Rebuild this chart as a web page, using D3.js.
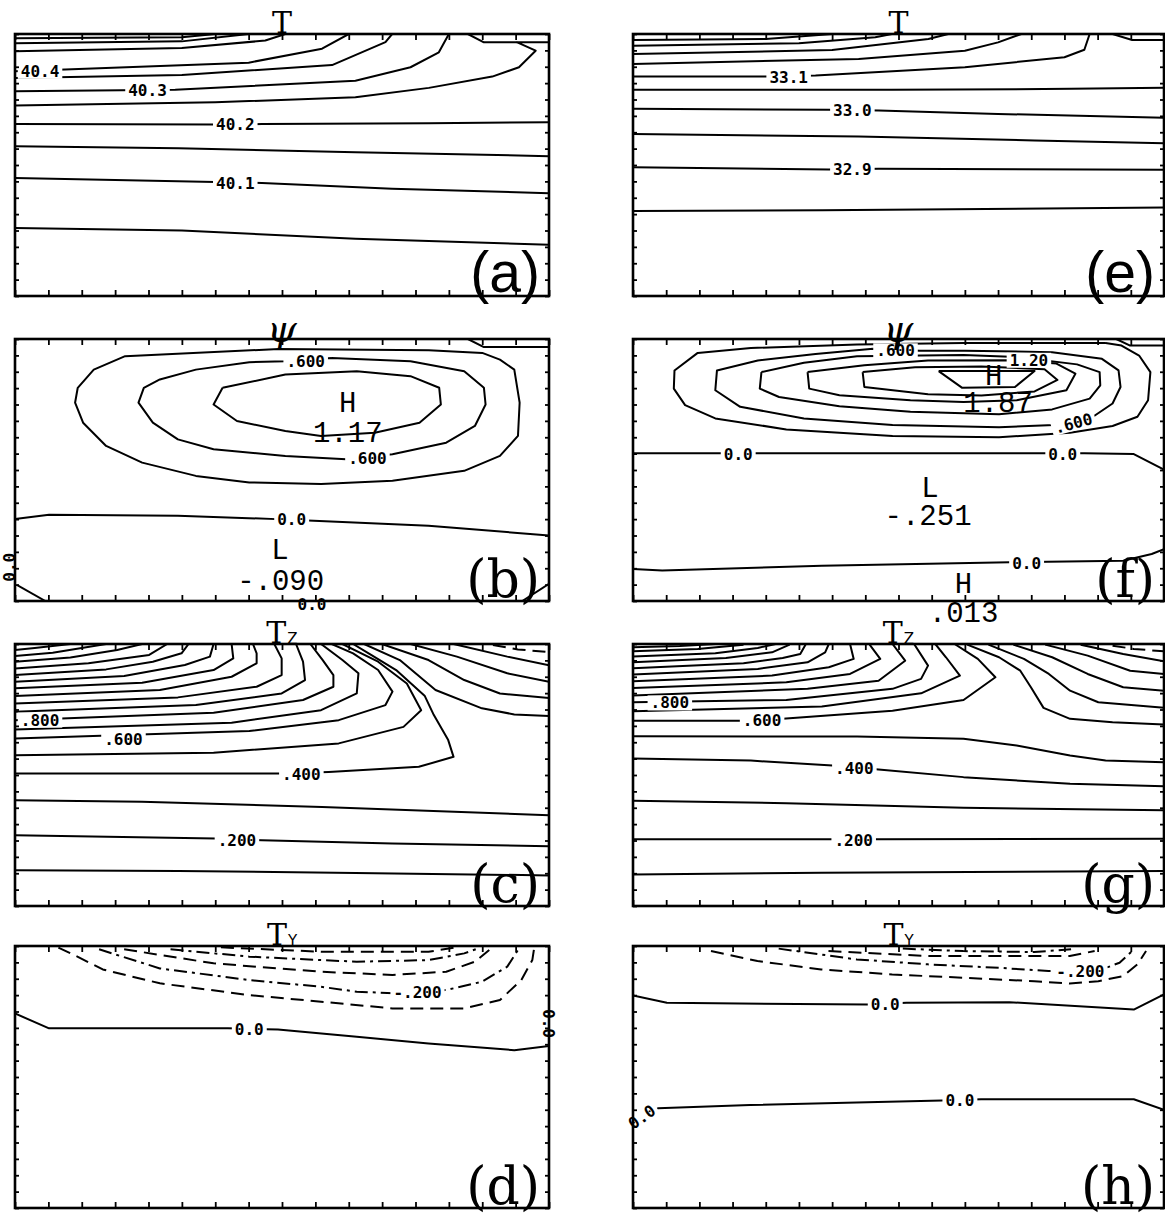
<!DOCTYPE html>
<html><head><meta charset="utf-8">
<script src="https://cdn.jsdelivr.net/npm/d3@7"></script>
<style>body{margin:0;background:#fff}svg{display:block}</style>
</head><body>
<script>
// ---------- DATA (grid units: x 0..16 across, y 0..16 downward) ----------
const xDomain=[0,16], yDomain=[0,16];
const tickValues=d3.range(0,17);

const contoursA=[
 {v:40.05,pts:[[0,11.85],[5,12.0],[10.2,12.5],[16,12.87]]},
 {v:40.10,pts:[[0,8.8],[6,9.04],[7.4,9.1],[11.3,9.45],[16,9.72]]},
 {v:40.15,pts:[[0,6.85],[4.9,6.97],[10.2,7.22],[16,7.46]]},
 {v:40.20,pts:[[0,5.49],[6,5.53],[7.4,5.5],[12.4,5.45],[16,5.39]]},
 {v:40.25,pts:[[0,4.37],[6,4.17],[10.2,3.86],[12.4,3.29],[14.3,2.6],[15.1,2.03],[15.6,1.02],[15.05,0.51],[16,0.51]]},
 {v:40.25,pts:[[13.57,0],[14.05,0.51],[15.05,0.51]]},
 {v:40.30,pts:[[0,3.5],[4.8,3.41],[10.2,2.85],[11.85,2.03],[12.7,1.12],[13.0,0]]},
 {v:40.35,pts:[[0,2.68],[5,2.5],[9.5,1.9],[11.1,0.5],[11.3,0]]},
 {v:40.40,pts:[[0,2.28],[1.5,2.17],[7,1.75],[9.2,0.9],[10,0]]},
 {v:40.45,pts:[[0,1.06],[5,0.85],[7.5,0.4],[8.1,0]]},
 {v:40.50,pts:[[0,0.57],[5,0.45],[7,0]]},
 {v:40.55,pts:[[0,0.26],[5,0.2],[6,0]]}
];
const labelsA=[{t:'40.4',x:0.75,y:2.28},{t:'40.3',x:3.97,y:3.46},{t:'40.2',x:6.6,y:5.53},{t:'40.1',x:6.6,y:9.12}];

const contoursE=[
 {v:32.85,pts:[[0,10.81],[5.7,10.77],[16,10.6]]},
 {v:32.90,pts:[[0,8.13],[5.9,8.27],[7.4,8.23],[16,8.29]]},
 {v:32.95,pts:[[0,6.1],[6.8,6.26],[12.1,6.5],[16,6.67]]},
 {v:33.00,pts:[[0,4.57],[5.9,4.63],[7.4,4.67],[11,4.88],[16,5.12]]},
 {v:33.05,pts:[[0,3.41],[7.8,3.41],[13.2,3.35],[16,3.29]]},
 {v:33.10,pts:[[0,2.6],[4,2.6],[5.5,2.54],[10,2.03],[13,1.42],[13.6,0.96],[13.76,0]]},
 {v:33.15,pts:[[0,1.83],[6.8,1.52],[10,1.02],[11,0.51],[11.7,0]]},
 {v:33.20,pts:[[0,1.22],[6,0.98],[8.9,0.3],[9.5,0]]},
 {v:33.25,pts:[[0,0.71],[5,0.57],[7.3,0.2],[7.8,0]]},
 {v:33.30,pts:[[0,0.37],[4,0.3],[6,0]]},
 {v:33.30,pts:[[14.45,0],[15.04,0.37],[16,0.37]]}
];
const labelsE=[{t:'33.1',x:4.69,y:2.64},{t:'33.0',x:6.61,y:4.7},{t:'32.9',x:6.61,y:8.3}];

const contoursB=[
 {v:0.3,pts:[[7.9,0.61],[3.3,1.05],[2.36,1.87],[1.88,2.98],[1.8,3.89],[2.04,5.11],[2.73,6.53],[3.81,7.55],[5.42,8.36],[7.02,8.76],[9.17,8.86],[11.31,8.66],[13.46,8.05],[14.53,7.14],[15.07,5.92],[15.12,3.89],[14.96,1.87],[14.53,1.26],[14,0.85],[12.4,0.69],[7.9,0.61]]},
 {v:0.6,pts:[[9.49,1.16],[11.85,1.36],[13.46,1.97],[14.05,2.98],[14.1,4.0],[13.78,5.31],[12.92,6.33],[11.31,7.04],[9.92,7.34],[8.1,7.14],[5.95,6.73],[4.88,6.13],[4.13,5.11],[3.7,3.89],[3.86,2.98],[4.34,2.47],[5.42,1.87],[7.02,1.42],[8.1,1.36],[9.49,1.16]]},
 {v:0.9,pts:[[6.22,2.98],[5.95,4.0],[6.65,5.01],[8.1,5.62],[9.17,5.92],[10.78,5.72],[12.12,5.11],[12.76,4.0],[12.71,2.98],[11.85,2.27],[10.24,1.97],[8.1,2.17],[6.22,2.98]]},
 {v:0,pts:[[0,11.0],[1.02,10.73],[4.88,10.79],[7.83,11.0],[8.95,11.1],[12.39,11.4],[16,12.0]]},
 {v:0,pts:[[0,14.95],[0.91,16]]},
 {v:0,pts:[[15.2,16],[16,14.95]]},
 {v:0.3,pts:[[13.57,0],[14.05,0.49],[16,0.49]]}
];
const labelsB=[{t:'.600',x:8.71,y:1.36},{t:'.600',x:10.56,y:7.3},{t:'0.0',x:8.29,y:11.05},{t:'0.0',x:-0.15,y:13.94,r:-90},{t:'0.0',x:8.9,y:16.2}];
const marksB=[{t:'H',x:9.97,y:4.0},{t:'1.17',x:9.97,y:5.85},{t:'L',x:7.94,y:13.0},{t:'-.090',x:7.96,y:14.9}];

const contoursF=[
 {v:0.3,pts:[[14.24,0.24],[9.96,0.24],[6.75,0.34],[3.55,0.55],[1.95,0.85],[1.25,1.92],[1.23,3.03],[1.57,4.04],[2.48,4.85],[4.62,5.52],[7.82,5.92],[11.03,6.0],[13.17,5.72],[14.45,5.31],[15.2,4.75],[15.52,3.74],[15.59,2.02],[15.25,1.01],[14.72,0.4],[14.24,0.24]]},
 {v:0.6,pts:[[7.23,0.6],[8.64,0.71],[10,0.71],[12.63,0.81],[14.13,1.21],[14.63,1.92],[14.69,2.93],[14.45,3.94],[13.86,4.75],[12.69,5.25],[11.03,5.39],[7.82,5.25],[5.15,4.85],[3.23,4.14],[2.48,3.13],[2.53,1.92],[3.76,1.31],[5.5,0.91],[7.23,0.6]]},
 {v:0.9,pts:[[3.87,2.02],[3.82,3.03],[4.4,3.54],[6.22,4.1],[8.36,4.44],[11.03,4.59],[12.63,4.3],[13.76,3.64],[14.08,2.83],[14.06,2.02],[13.38,1.55],[11.56,1.1],[9.96,0.98],[6.75,1.05],[5.15,1.45],[3.87,2.02]]},
 {v:1.2,pts:[[5.26,2.02],[5.31,3.03],[6.22,3.43],[8.36,3.74],[9.96,3.84],[11.56,3.74],[13.06,3.13],[13.33,2.12],[12.76,1.5],[11.5,1.3],[8.89,1.32],[6.97,1.6],[5.26,2.02]]},
 {v:1.5,pts:[[6.92,2.02],[6.97,2.93],[8.89,3.37],[10.5,3.45],[12.1,3.2],[12.79,2.5],[12.4,1.85],[10.5,1.68],[8.5,1.72],[6.92,2.02]]},
 {v:1.8,pts:[[9.21,1.96],[12.1,1.96],[11.51,2.93],[9.91,2.97],[9.21,1.96]]},
 {v:0.3,pts:[[14.56,0],[14.98,0.4],[16,0.4]]},
 {v:0,pts:[[0,6.97],[2.69,6.97],[3.8,6.97],[12.5,6.97],[13.6,6.97],[15.09,7.03],[16,7.98]]},
 {v:0,pts:[[0,14.04],[0.88,14.14],[5.69,13.84],[11.35,13.64],[12.5,13.6],[14.77,13.54],[15.63,13.13],[16,12.83]]}
];
const labelsF=[{t:'.600',x:7.91,y:0.72},{t:'.600',x:13.27,y:5.15,r:-15},{t:'1.20',x:11.93,y:1.3},{t:'0.0',x:3.17,y:7.05},{t:'0.0',x:12.95,y:7.05},{t:'0.0',x:11.86,y:13.7}];
const marksF=[{t:'H',x:10.87,y:2.36},{t:'1.87',x:11.0,y:3.98},{t:'L',x:8.95,y:9.19},{t:'-.251',x:8.89,y:10.9},{t:'H',x:9.96,y:15.05},{t:'.013',x:9.96,y:16.83}];

const contoursC=[
 {v:0.1,pts:[[0,13.82],[4.9,13.86],[10.2,13.98],[16,14.13]]},
 {v:0.2,pts:[[0,11.68],[6,11.88],[7.4,11.99],[11.3,12.19],[16,12.35]]},
 {v:0.3,pts:[[0,9.54],[3.8,9.64],[9.2,9.95],[16,10.46]]},
 {v:0.4,pts:[[0,7.91],[8,7.91],[9.4,7.81],[12.1,7.5],[13.14,6.89],[12.98,5.87],[12.55,4.34],[12.28,3.18],[11.42,1.59],[10.67,0.67],[10.13,0]]},
 {v:0.5,pts:[[0,6.79],[5.95,6.64],[9.7,6.07],[11.64,5.06],[12.17,4.04],[11.74,2.41],[10.88,1.08],[9.81,0]]},
 {v:0.6,pts:[[0,5.77],[7.02,5.32],[9.7,4.65],[11.1,3.73],[11.31,2.91],[10.88,1.59],[10.13,0.57],[9.49,0]]},
 {v:0.7,pts:[[0,5.22],[6.49,4.81],[9.17,4.04],[10.24,3.02],[10.29,1.79],[9.81,0.98],[9.17,0]]},
 {v:0.8,pts:[[0,4.65],[5.95,4.2],[8.63,3.42],[9.54,2.61],[9.54,1.9],[9.22,0.98],[8.85,0]]},
 {v:0.9,pts:[[0,4.14],[5.42,3.73],[7.99,3.02],[8.69,2.2],[8.63,1.08],[8.42,0]]},
 {v:1.0,pts:[[0,3.63],[4.88,3.26],[7.24,2.61],[7.99,1.9],[7.99,0.88],[7.77,0]]},
 {v:1.1,pts:[[0,3.18],[4.34,2.81],[6.49,2.0],[7.24,1.18],[7.24,0.57],[7.13,0]]},
 {v:1.2,pts:[[0,2.71],[3.81,2.36],[5.95,1.59],[6.54,0.88],[6.49,0]]},
 {v:1.3,pts:[[0,2.3],[3.27,1.96],[5.09,1.28],[5.84,0.77],[5.95,0]]},
 {v:1.4,pts:[[0,1.9],[2.73,1.55],[4.13,1.08],[4.99,0.57],[5.2,0]]},
 {v:1.5,pts:[[0,1.49],[2.2,1.18],[4.02,0.67],[4.56,0]]},
 {v:1.6,pts:[[0,1.08],[1.66,0.82],[3.06,0.37],[3.81,0]]},
 {v:1.7,pts:[[0,0.73],[1.13,0.53],[2.73,0]]},
 {v:1.8,pts:[[0,0.37],[0.59,0.24],[1.66,0]]},
 {v:0.3,pts:[[10.46,0],[11.53,0.98],[12.6,2.81],[13.99,3.93],[14.96,4.3],[16,4.4]]},
 {v:0.2,pts:[[10.99,0],[12.39,0.98],[13.46,2.2],[14.53,3.02],[16,3.3]]},
 {v:0.1,pts:[[11.85,0],[13.24,0.77],[14.75,1.79],[16,2.3]]},
 {v:0.0,pts:[[13.14,0],[14.75,0.77],[16,1.3]]},
 {v:-0.1,pts:[[14.32,0.06],[15.07,0.33],[16,0.5]]}
];
const labelsC=[{t:'.800',x:0.75,y:4.65},{t:'.600',x:3.25,y:5.85},{t:'.400',x:8.58,y:7.95},{t:'.200',x:6.65,y:12.0}];

const contoursG=[
 {v:0.1,pts:[[0,14.07],[5.69,13.97],[16,13.86]]},
 {v:0.2,pts:[[0,11.93],[6.01,11.93],[7.4,11.93],[16,11.89]]},
 {v:0.3,pts:[[0,9.58],[4.62,9.72],[9.96,10.0],[16,10.16]]},
 {v:0.4,pts:[[0,6.99],[3.55,7.12],[6.01,7.42],[7.4,7.66],[9.96,8.13],[13.17,8.54],[16,8.68]]},
 {v:0.5,pts:[[0,5.63],[6.75,5.65],[9.96,5.79],[11.56,6.2],[13.17,6.81],[14.24,7.12],[16,7.22]]},
 {v:0.6,pts:[[0,4.68],[3.23,4.68],[4.51,4.57],[7.82,4.07],[9.96,3.42],[10.92,2.03],[10.39,0.91],[9.69,0]]},
 {v:0.7,pts:[[0,4.11],[5.69,3.82],[8.68,3.01],[9.85,1.93],[9.43,0.81],[9.11,0]]},
 {v:0.8,pts:[[0,3.56],[4.62,3.42],[7.82,2.74],[8.68,2.13],[8.89,1.32],[8.47,0]]},
 {v:0.9,pts:[[0,3.15],[5.26,2.74],[7.4,2.24],[8.2,1.02],[7.82,0]]},
 {v:1.0,pts:[[0,2.68],[4.62,2.34],[6.54,1.83],[7.45,0.91],[7.13,0.04]]},
 {v:1.1,pts:[[0,2.28],[4.19,1.93],[5.9,1.42],[6.65,0.91],[6.54,0]]},
 {v:1.2,pts:[[0,1.87],[3.76,1.52],[5.26,1.12],[5.79,0.51],[5.9,0]]},
 {v:1.3,pts:[[0,1.48],[3.33,1.18],[4.51,0.85],[5.04,0.61],[5.21,0]]},
 {v:1.4,pts:[[0,1.12],[2.8,0.85],[4.19,0.51],[4.72,0.04]]},
 {v:1.5,pts:[[0,0.77],[2.48,0.57],[3.76,0.24],[4.3,0]]},
 {v:1.6,pts:[[0,0.45],[1.95,0.3],[3.33,0.04]]},
 {v:1.7,pts:[[0,0.2],[1.41,0.12],[2.48,0]]},
 {v:0.5,pts:[[10.07,0.04],[11.03,0.81],[11.67,1.63],[11.99,2.64],[12.37,3.9],[13.17,4.57],[14.45,4.78],[16,4.92]]},
 {v:0.4,pts:[[10.71,0.04],[11.78,0.91],[12.53,1.83],[13.17,2.85],[14.02,3.56],[16,3.9]]},
 {v:0.3,pts:[[11.46,0.04],[12.63,0.81],[13.7,1.83],[14.77,2.64],[16,2.85]]},
 {v:0.2,pts:[[12.42,0.04],[13.7,0.71],[14.98,1.63],[16,1.83]]},
 {v:0.1,pts:[[13.49,0.04],[14.77,0.61],[16,1.06]]},
 {v:-0.1,pts:[[14.45,0.1],[15.09,0.3],[16,0.45]]}
];
const labelsG=[{t:'.800',x:1.11,y:3.6},{t:'.600',x:3.89,y:4.7},{t:'.400',x:6.67,y:7.62},{t:'.200',x:6.65,y:11.98}];

const contoursD=[
 {v:-0.1,pts:[[1.3,0.1],[1.77,0.55],[2.63,1.43],[4.34,2.28],[7.02,3.0],[9.17,3.4],[11.31,3.81],[13.46,3.81],[14.53,3.3],[15.17,2.08],[15.5,0.86],[15.55,0.2]]},
 {v:-0.2,pts:[[2.52,0.2],[4.34,1.37],[7.02,2.08],[9.17,2.49],[10.24,2.79],[11.42,2.89],[12.92,2.69],[13.99,2.18],[14.75,1.26],[15.07,0.24]]},
 {v:-0.3,pts:[[3.27,0.2],[5.95,1.06],[9.17,1.57],[11.31,1.77],[12.92,1.57],[13.78,0.96],[14.21,0.24]]},
 {v:-0.4,pts:[[4.66,0.2],[7.02,0.65],[10.24,0.96],[12.39,0.86],[13.46,0.45],[13.89,0.14]]},
 {v:-0.5,pts:[[6.17,0.08],[9.17,0.35],[12.39,0.35],[13.24,0.08]]},
 {v:0,pts:[[0,4.12],[1.02,5.03],[6.38,5.03],[7.88,5.1],[10.24,5.54],[12.39,5.95],[14.96,6.36],[16,6.11]]}
];
const labelsD=[{t:'-.200',x:12.06,y:2.85},{t:'0.0',x:7.02,y:5.08},{t:'0.0',x:15.98,y:4.73,r:90}];

const contoursH=[
 {v:-0.1,pts:[[2.35,0.31],[3.75,0.92],[5.67,1.43],[7.81,1.74],[9.95,1.94],[12.09,2.15],[13.16,2.29],[14.02,2.15],[14.77,1.84],[15.2,1.12],[15.46,0.31]]},
 {v:-0.2,pts:[[4.39,0.16],[6.74,0.82],[8.88,1.12],[11.02,1.33],[12.52,1.53],[14.13,1.43],[14.66,1.02],[15.04,0.31]]},
 {v:-0.3,pts:[[5.89,0.31],[8.88,0.61],[11.02,0.61],[13.16,0.61],[13.91,0.31]]},
 {v:-0.4,pts:[[8.13,0.16],[9.95,0.31],[12.09,0.37],[13.2,0.2]]},
 {v:0,pts:[[0,3.02],[1.02,3.47],[7.06,3.58],[8.24,3.47],[11.34,3.43],[15.09,3.88],[16,2.96]]},
 {v:0,pts:[[0,10.75],[0.75,9.91],[3.53,9.71],[6.74,9.56],[9.31,9.44],[10.49,9.36],[15.09,9.36],[16,10.01]]}
];
const labelsH=[{t:'-.200',x:13.48,y:1.53},{t:'0.0',x:7.6,y:3.6},{t:'0.0',x:9.85,y:9.44},{t:'0.0',x:0.27,y:10.45,r:-35}];

const titles=['T','ψ','T','T','T','ψ','T','T'];
const subs=['','','Z','Y','','','Z','Y'];
const tags=['(a)','(b)','(c)','(d)','(e)','(f)','(g)','(h)'];

// ---------- LAYOUT ----------
const W=1165,H=1216;
const cols=[[15,549],[633,1164]];
const rows=[[34,296],[339,601],[644,906],[946,1208]];
const panels=[
 {c:0,r:0,con:contoursA,lab:labelsA,mk:[]},
 {c:0,r:1,con:contoursB,lab:labelsB,mk:marksB},
 {c:0,r:2,con:contoursC,lab:labelsC,mk:[]},
 {c:0,r:3,con:contoursD,lab:labelsD,mk:[]},
 {c:1,r:0,con:contoursE,lab:labelsE,mk:[]},
 {c:1,r:1,con:contoursF,lab:labelsF,mk:marksF},
 {c:1,r:2,con:contoursG,lab:labelsG,mk:[]},
 {c:1,r:3,con:contoursH,lab:labelsH,mk:[]}
];

const svg=d3.select('body').append('svg').attr('width',W).attr('height',H);
svg.append('rect').attr('width',W).attr('height',H).attr('fill','#fff');
const defs=svg.append('defs');

panels.forEach((p,i)=>{
 const [x0,x1]=cols[p.c],[y0,y1]=rows[p.r];
 const x=d3.scaleLinear().domain(xDomain).range([x0,x1]);
 const y=d3.scaleLinear().domain(yDomain).range([y0,y1]);
 const g=svg.append('g');
 defs.append('clipPath').attr('id','clip'+i).append('rect')
   .attr('x',x0).attr('y',y0).attr('width',x1-x0).attr('height',y1-y0);
 const line=d3.line().x(d=>x(d[0])).y(d=>y(d[1]));
 g.append('g').attr('clip-path',`url(#clip${i})`)
  .selectAll('path').data(p.con).join('path')
  .attr('d',d=>line(d.pts)).attr('fill','none').attr('stroke','#000')
  .attr('stroke-width',2.0).attr('stroke-linejoin','round')
  .attr('stroke-dasharray',d=>d.v<0?(Math.round(-d.v*10)%2?'13,7':'13,5,3,5'):null);

 // contour labels (line broken behind them)
 p.lab.forEach(d=>{
   const gg=g.append('g').attr('transform',`translate(${x(d.x)},${y(d.y)}) rotate(${d.r||0})`);
   const t=gg.append('text').attr('text-anchor','middle').attr('dominant-baseline','central')
     .attr('font-family','DejaVu Sans Mono').attr('font-weight','bold').attr('font-size',16)
     .text(d.t);
   const bb=t.node().getBBox();
   gg.insert('rect','text').attr('x',bb.x-3).attr('y',bb.y+2).attr('width',bb.width+6).attr('height',bb.height-4).attr('fill','#fff');
 });
 // H / L extrema marks
 g.selectAll('text.mk').data(p.mk).join('text').attr('class','mk')
  .attr('x',d=>x(d.x)).attr('y',d=>y(d.y)).attr('text-anchor','middle').attr('dominant-baseline','central')
  .attr('font-family','Liberation Mono').attr('font-size',29).text(d=>d.t);

 // frame with inward ticks on all four sides
 const tk=(ax)=>ax.tickValues(tickValues).tickFormat('').tickSizeOuter(0);
 const axes=[
  [d3.axisBottom(x).tickSizeInner(-6),`translate(0,${y1})`],
  [d3.axisTop(x).tickSizeInner(-6),`translate(0,${y0})`],
  [d3.axisLeft(y).tickSizeInner(-4),`translate(${x0},0)`],
  [d3.axisRight(y).tickSizeInner(-4),`translate(${x1},0)`]
 ];
 axes.forEach(([ax,tr])=>{
   const a=g.append('g').attr('transform',tr).call(tk(ax));
   a.select('.domain').remove();
   a.selectAll('line').attr('stroke','#000').attr('stroke-width',1.8);
 });
 g.append('rect').attr('x',x0).attr('y',y0).attr('width',x1-x0).attr('height',y1-y0)
  .attr('fill','none').attr('stroke','#000').attr('stroke-width',2.6);

 // title
 const cx=(x0+x1)/2;
 const isPsi=titles[i]==='ψ';
 const tt=svg.append('text').attr('x',cx).attr('y',isPsi?y0+3:y0-1).attr('text-anchor','middle')
   .attr('font-family','DejaVu Serif').attr('font-size',isPsi?38:30)
   .attr('font-style',isPsi?'italic':'normal').text(titles[i]);
 if(subs[i]) tt.append('tspan').attr('font-family','DejaVu Sans').attr('font-size',15).attr('dx',1).attr('dy',1).text(subs[i]);

 // panel tag
 const serif=!(tags[i]==='(a)'||tags[i]==='(e)');
 svg.append('text').attr('x',x1-9).attr('y',y1-4).attr('text-anchor','end')
   .attr('font-family',serif?'DejaVu Serif':'Liberation Sans').attr('font-size',serif?52:57)
   .attr('font-weight','normal').text(tags[i]);
});
</script>
</body></html>
